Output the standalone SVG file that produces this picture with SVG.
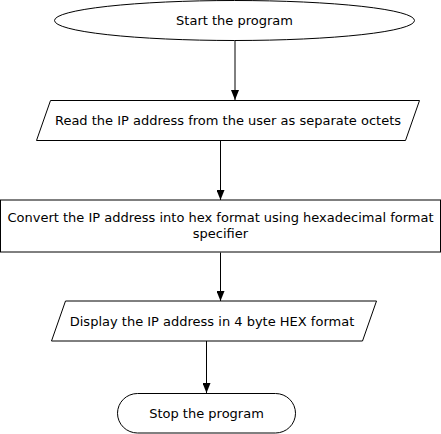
<svg xmlns="http://www.w3.org/2000/svg" width="441" height="434" viewBox="0 0 441 434">
<style>
.s{fill:#fff;stroke:#000;stroke-width:1}
.t{font-family:"DejaVu Sans",sans-serif;font-size:13px;fill:#000;text-anchor:middle;dominant-baseline:central}
.c{stroke:#000;stroke-width:1;fill:none;marker-end:url(#a)}
</style>
<defs>
<marker id="a" markerWidth="10" markerHeight="8" refX="10" refY="4" orient="auto" markerUnits="userSpaceOnUse" viewBox="0 0 10 8">
<path d="M0,0 L10,4 L0,8 Z" fill="#000"/>
</marker>
</defs>
<rect width="441" height="434" fill="#fff"/>
<g id="connectors">
<line class="c" x1="235" y1="40.5" x2="235" y2="100"/>
<line class="c" x1="220.5" y1="140.5" x2="220.5" y2="200"/>
<line class="c" x1="220.5" y1="252.5" x2="220.5" y2="301"/>
<line class="c" x1="206.5" y1="341" x2="206.5" y2="393"/>
</g>
<g id="start">
<ellipse class="s" cx="234.5" cy="20.5" rx="180" ry="20"/>
<text class="t" x="234.5" y="20.5">Start the program</text>
</g>
<g id="read">
<polygon class="s" points="50.5,100.5 419.5,100.5 405.5,140.5 36.5,140.5"/>
<text class="t" x="228" y="120.5">Read the IP address from the user as separate octets</text>
</g>
<g id="convert">
<rect class="s" x="0.5" y="200" width="440" height="52"/>
<text class="t" x="220.5" y="217.5">Convert the IP address into hex format using hexadecimal format</text>
<text class="t" x="220.5" y="233.5">specifier</text>
</g>
<g id="display">
<polygon class="s" points="65.5,301 376.5,301 362.5,341 51.5,341"/>
<text class="t" x="212" y="321">Display the IP address in 4 byte HEX format</text>
</g>
<g id="stop">
<rect class="s" x="117.5" y="393.5" width="178" height="39.5" rx="20" ry="20"/>
<text class="t" x="206.5" y="413.5">Stop the program</text>
</g>
</svg>
